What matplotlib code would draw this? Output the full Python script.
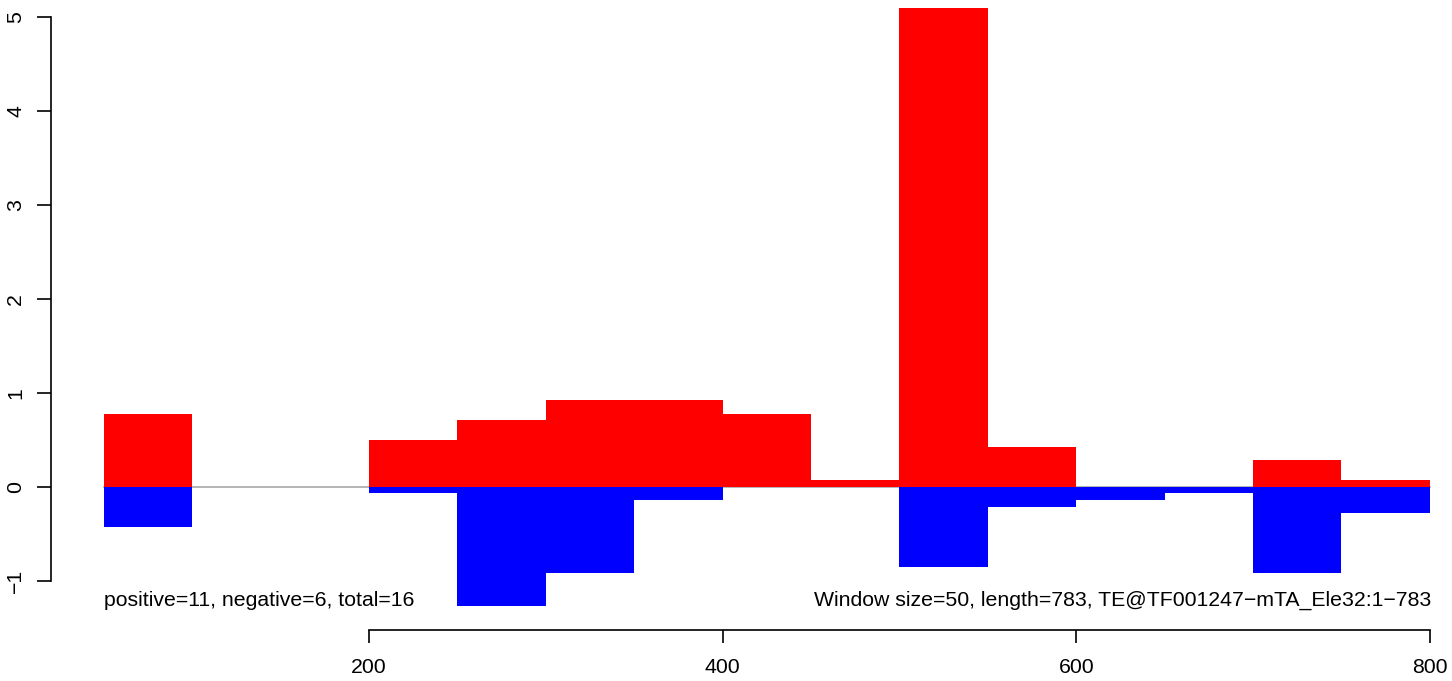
import matplotlib
matplotlib.use('Agg')
from matplotlib import pyplot as plt

plt.rcParams['font.family'] = ['Liberation Sans', 'DejaVu Sans']

# window starts (size 50) and scores
win_start = [50, 200, 250, 300, 350, 400, 450, 500, 550, 600, 650, 700, 750]
pos_vals = [0.778, 0.495, 0.707, 0.919, 0.919, 0.778, 0.071, 5.091, 0.424, 0.0, 0.0, 0.283, 0.071]
neg_vals = [-0.424, -0.071, -1.273, -0.919, -0.141, 0.0, 0.0, -0.849, -0.212, -0.141, -0.071, -0.919, -0.283]
win_size = 50

x_ticks = [200, 400, 600, 800]
y_ticks = [-1, 0, 1, 2, 3, 4, 5]
y_labels = ['\u22121', '0', '1', '2', '3', '4', '5']

left_text = "positive=11, negative=6, total=16"
right_text = "Window size=50, length=783, TE@TF001247\u2212mTA_Ele32:1\u2212783"

fs = 15.3

fig = plt.figure(figsize=(14.52, 6.81), dpi=100)
ax = fig.add_axes([0, 0, 1, 1])
ax.set_xlim(-8.71, 812.5)
ax.set_ylim(-2.067, 5.178)

# zero line
ax.plot([win_start[0], win_start[-1] + win_size], [0, 0], color='#a0a0a0', lw=1.1, zorder=1)

# bars
pos_x = [s for s, v in zip(win_start, pos_vals) if v != 0]
pos_h = [v for v in pos_vals if v != 0]
neg_x = [s for s, v in zip(win_start, neg_vals) if v != 0]
neg_h = [v for v in neg_vals if v != 0]
ax.bar(pos_x, pos_h, width=win_size, align='edge', color='#ff0000', lw=0, zorder=2, clip_on=False)
ax.bar(neg_x, neg_h, width=win_size, align='edge', color='#0000ff', lw=0, zorder=2)

# axes like R
for side in ['top', 'right']:
    ax.spines[side].set_visible(False)
ax.spines['left'].set_position(('data', 20.1))
ax.spines['left'].set_bounds(-1, 5)
ax.spines['bottom'].set_position(('data', -1.524))
ax.spines['bottom'].set_bounds(200, 800)
ax.spines['left'].set_linewidth(1.2)
ax.spines['bottom'].set_linewidth(1.2)

ax.set_xticks(x_ticks)
ax.set_yticks(y_ticks)
ax.set_yticklabels(y_labels, rotation=90, va='center')
ax.tick_params(axis='both', direction='out', width=1.2, labelsize=fs)
ax.tick_params(axis='y', length=10, pad=8.5)
ax.tick_params(axis='x', length=9.4, pad=10.5)

ax.text(50, -1.21, left_text, ha='left', va='center', fontsize=fs)
ax.text(801, -1.21, right_text, ha='right', va='center', fontsize=fs)

fig.savefig('out.png', dpi=100)
